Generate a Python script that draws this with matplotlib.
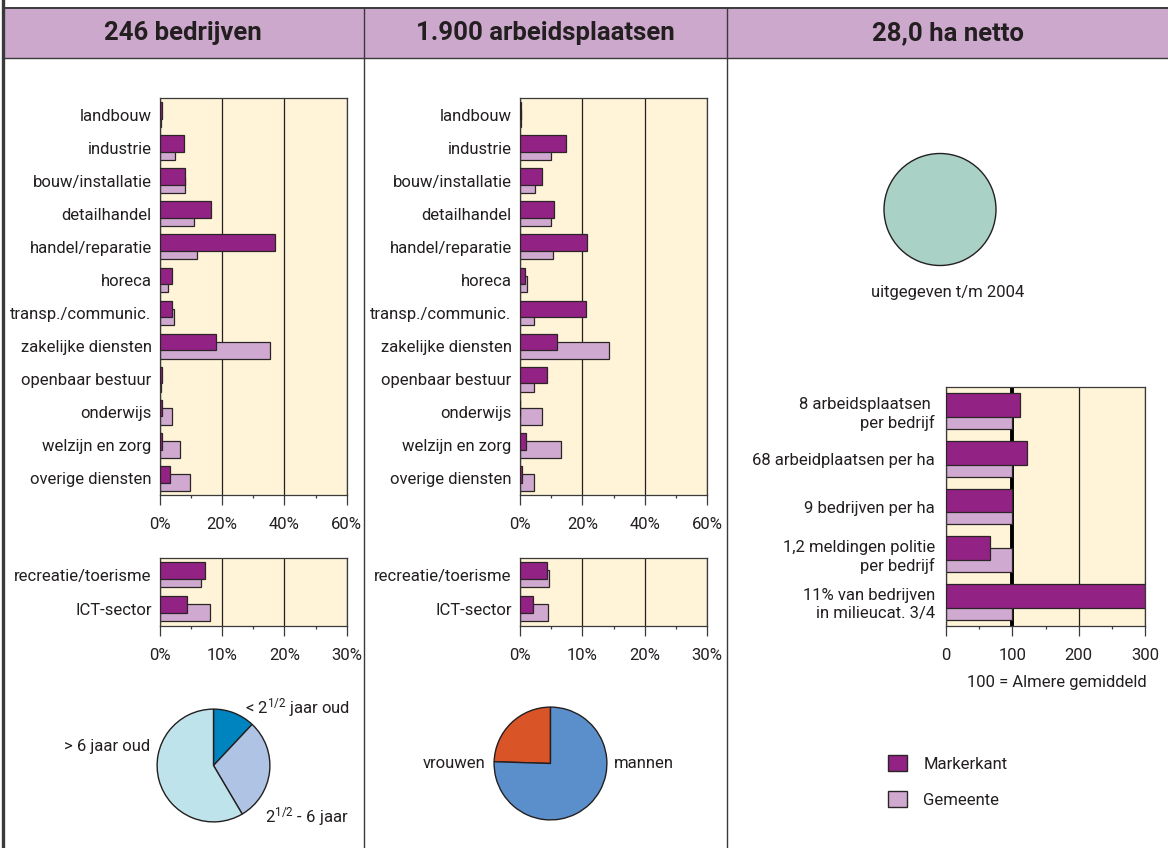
import numpy as np
import matplotlib
matplotlib.use("Agg")
import matplotlib.pyplot as plt
from matplotlib.lines import Line2D
from matplotlib.patches import Rectangle, Patch
from matplotlib.ticker import FuncFormatter

# ---------------------------------------------------------------- data
sectors = ["landbouw", "industrie", "bouw/installatie", "detailhandel",
           "handel/reparatie", "horeca", "transp./communic.",
           "zakelijke diensten", "openbaar bestuur", "onderwijs",
           "welzijn en zorg", "overige diensten"]
bedrijven_markerkant = [0.5, 7.6, 8.1, 16.3, 37.0, 4.0, 4.0, 18.0, 0.5, 0.5, 0.5, 3.3]
bedrijven_gemeente = [0.3, 4.8, 8.1, 10.9, 11.8, 2.7, 4.5, 35.5, 0.2, 4.0, 6.4, 9.8]
banen_markerkant = [0.4, 14.7, 7.2, 11.0, 21.4, 1.5, 21.1, 11.8, 8.6, 0.1, 1.8, 0.8]
banen_gemeente = [0.3, 9.8, 4.9, 9.8, 10.5, 2.4, 4.6, 28.5, 4.4, 7.2, 13.0, 4.4]

clusters = ["recreatie/toerisme", "ICT-sector"]
cluster_bedrijven_markerkant = [7.3, 4.4]
cluster_bedrijven_gemeente = [6.6, 8.1]
cluster_banen_markerkant = [4.3, 2.1]
cluster_banen_gemeente = [4.7, 4.5]

index_labels = ["8 arbeidsplaatsen \nper bedrijf", "68 arbeidplaatsen per ha",
                "9 bedrijven per ha", "1,2 meldingen politie\nper bedrijf",
                "11% van bedrijven\nin milieucat. 3/4"]
index_markerkant = [112, 122, 100, 66, 300]
index_gemeente = [100, 100, 100, 100, 100]

leeftijd_labels = ["< 2$^{\\mathrm{1/2}}$ jaar oud", "2$^{\\mathrm{1/2}}$ - 6 jaar", "> 6 jaar oud"]
leeftijd_aandeel = [12.0, 29.5, 58.5]
geslacht_labels = ["vrouwen", "mannen"]
geslacht_aandeel = [24.5, 75.5]
terrein_labels = ["uitgegeven t/m 2004"]
terrein_aandeel = [100]

headers = ["246 bedrijven", "1.900 arbeidsplaatsen", "28,0 ha netto"]
series_names = ["Markerkant", "Gemeente"]

# ---------------------------------------------------------------- style
MK = "#922283"
GM = "#CFA9CF"
EDGE = "#2B2528"
CREAM = "#FFF4D8"
HEADER = "#CDA8CD"
INK = "#231F20"
LINE = "#3A3A3A"

plt.rcParams["font.family"] = ["Roboto", "DejaVu Sans"]
plt.rcParams["mathtext.fontset"] = "custom"
plt.rcParams["mathtext.rm"] = "Roboto"
plt.rcParams["mathtext.it"] = "Roboto:italic"
plt.rcParams["mathtext.bf"] = "Roboto:bold"
plt.rcParams["text.color"] = INK
plt.rcParams["xtick.color"] = INK
plt.rcParams["ytick.color"] = INK
FS = 12

W, H = 1168, 848
fig = plt.figure(figsize=(W / 100, H / 100), dpi=100, facecolor="white")


def px_axes(x0, y0, x1, y1):
    return fig.add_axes([x0 / W, 1 - y1 / H, (x1 - x0) / W, (y1 - y0) / H])


def ftext(x, y, s, **kw):
    kw.setdefault("fontsize", FS)
    return fig.text(x / W, 1 - y / H, s, **kw)


def fline(x0, y0, x1, y1, **kw):
    fig.add_artist(Line2D([x0 / W, x1 / W], [1 - y0 / H, 1 - y1 / H],
                          transform=fig.transFigure, **kw))


def bar_panel(ax, cats, mk, gm, xmax, major, minor, fmt, ypad=6):
    y = np.arange(len(cats))
    ax.barh(y + 0.125, gm, height=0.5, color=GM, edgecolor=EDGE, lw=0.9,
            zorder=2, label=series_names[1])
    ax.barh(y - 0.125, mk, height=0.5, color=MK, edgecolor=EDGE, lw=0.9,
            zorder=3, label=series_names[0])
    ax.set_ylim(len(cats) - 0.5, -0.5)
    ax.set_xlim(0, xmax)
    ax.set_facecolor(CREAM)
    ax.set_axisbelow(True)
    ax.set_yticks(y, cats)
    ax.tick_params(axis="y", length=0, pad=ypad, labelsize=FS)
    ax.set_xticks(major)
    ax.set_xticks(minor, minor=True)
    ax.xaxis.set_major_formatter(FuncFormatter(fmt))
    ax.tick_params(axis="x", which="major", length=7, width=0.9,
                   direction="out", pad=9, labelsize=FS, color=LINE)
    ax.tick_params(axis="x", which="minor", length=1.8, width=0.9,
                   direction="out", color=LINE)
    ax.grid(axis="x", which="major", color=INK, lw=0.9)
    for s in ax.spines.values():
        s.set_color(LINE)
        s.set_linewidth(0.9)
    return ax


pct = lambda v, p: f"{v:.0f}%"
plain = lambda v, p: f"{v:.0f}"

# ---------------------------------------------------------------- frame
fig.add_artist(Rectangle((3 / W, 1 - 58 / H), (W - 3) / W, 50 / H,
                         transform=fig.transFigure, facecolor=HEADER,
                         edgecolor="none", zorder=0))
fline(3, 8, W, 8, color=LINE, lw=1.4)
fline(3, 58, W, 58, color=LINE, lw=1.0)
fline(3, 0, 3, H, color=LINE, lw=2.4)
fline(364, 8, 364, H, color=LINE, lw=1.0)
fline(727, 8, 727, H, color=LINE, lw=1.0)

for cx, t in zip([183, 545.5, 947.5], headers):
    ftext(cx, 33, t, ha="center", va="center", fontsize=18.5, fontweight="bold")

# ---------------------------------------------------------------- sector bars
ax1 = px_axes(160, 98, 346.7, 495)
bar_panel(ax1, sectors, bedrijven_markerkant, bedrijven_gemeente, 60,
          [0, 20, 40, 60], [10, 30, 50], pct)
ax2 = px_axes(160, 557.7, 346.7, 625.7)
bar_panel(ax2, clusters, cluster_bedrijven_markerkant, cluster_bedrijven_gemeente, 30,
          [0, 10, 20, 30], [5, 15, 25], pct)

ax3 = px_axes(520, 98, 707, 495)
bar_panel(ax3, sectors, banen_markerkant, banen_gemeente, 60,
          [0, 20, 40, 60], [10, 30, 50], pct)
ax4 = px_axes(520, 557.7, 707, 625.7)
bar_panel(ax4, clusters, cluster_banen_markerkant, cluster_banen_gemeente, 30,
          [0, 10, 20, 30], [5, 15, 25], pct)

# ---------------------------------------------------------------- index bars
ax5 = px_axes(946, 387.3, 1145, 625.7)
bar_panel(ax5, index_labels, index_markerkant, index_gemeente, 300,
          [0, 100, 200, 300], [50, 150, 250], plain, ypad=8)
ax5.get_xgridlines()[1].set_linewidth(2.8)
ax5.get_xgridlines()[1].set_color("black")
ftext(1147, 683, "100 = Almere gemiddeld", ha="right", va="center")

# ---------------------------------------------------------------- pies
def pie_axes(cx, cy, r):
    m = 1.03
    ax = px_axes(cx - r * m, cy - r * m, cx + r * m, cy + r * m)
    ax.set_aspect("equal")
    ax.axis("off")
    return ax


wp = dict(edgecolor=INK, linewidth=1.0)
pa = pie_axes(213.5, 765.5, 56.4)
pa.pie(leeftijd_aandeel, colors=["#0084BF", "#AFC4E4", "#BEE3EA"],
       startangle=90, counterclock=False, radius=1, wedgeprops=wp)
pa.set_xlim(-1.03, 1.03); pa.set_ylim(-1.03, 1.03)
ftext(245, 708, leeftijd_labels[0], ha="left", va="center")
ftext(265, 817, leeftijd_labels[1], ha="left", va="center")
ftext(150, 747, leeftijd_labels[2], ha="right", va="center")

pb = pie_axes(550.5, 763.5, 56.4)
pb.pie(geslacht_aandeel, colors=["#D95427", "#5B8FCC"],
       startangle=90, counterclock=True, radius=1, wedgeprops=wp)
pb.set_xlim(-1.03, 1.03); pb.set_ylim(-1.03, 1.03)
ftext(485, 763, geslacht_labels[0], ha="right", va="center")
ftext(614, 763, geslacht_labels[1], ha="left", va="center")

pc = pie_axes(940, 209.5, 56)
pc.pie(terrein_aandeel, colors=["#A9D1C5"], startangle=90, radius=1,
       wedgeprops=wp)
pc.set_xlim(-1.03, 1.03); pc.set_ylim(-1.03, 1.03)
ftext(948, 292, terrein_labels[0], ha="center", va="center")

# ---------------------------------------------------------------- legend
handles = [Patch(facecolor=MK, edgecolor=EDGE, lw=1.0),
           Patch(facecolor=GM, edgecolor=EDGE, lw=1.0)]
fig.legend(handles, series_names, loc="upper left",
           bbox_to_anchor=(875 / W, 1 - 742 / H), frameon=False,
           fontsize=FS, handlelength=1.1, handleheight=1.1,
           handletextpad=1.0, labelspacing=1.15, borderpad=0.3)

fig.savefig("out.png", dpi=100, facecolor="white")
